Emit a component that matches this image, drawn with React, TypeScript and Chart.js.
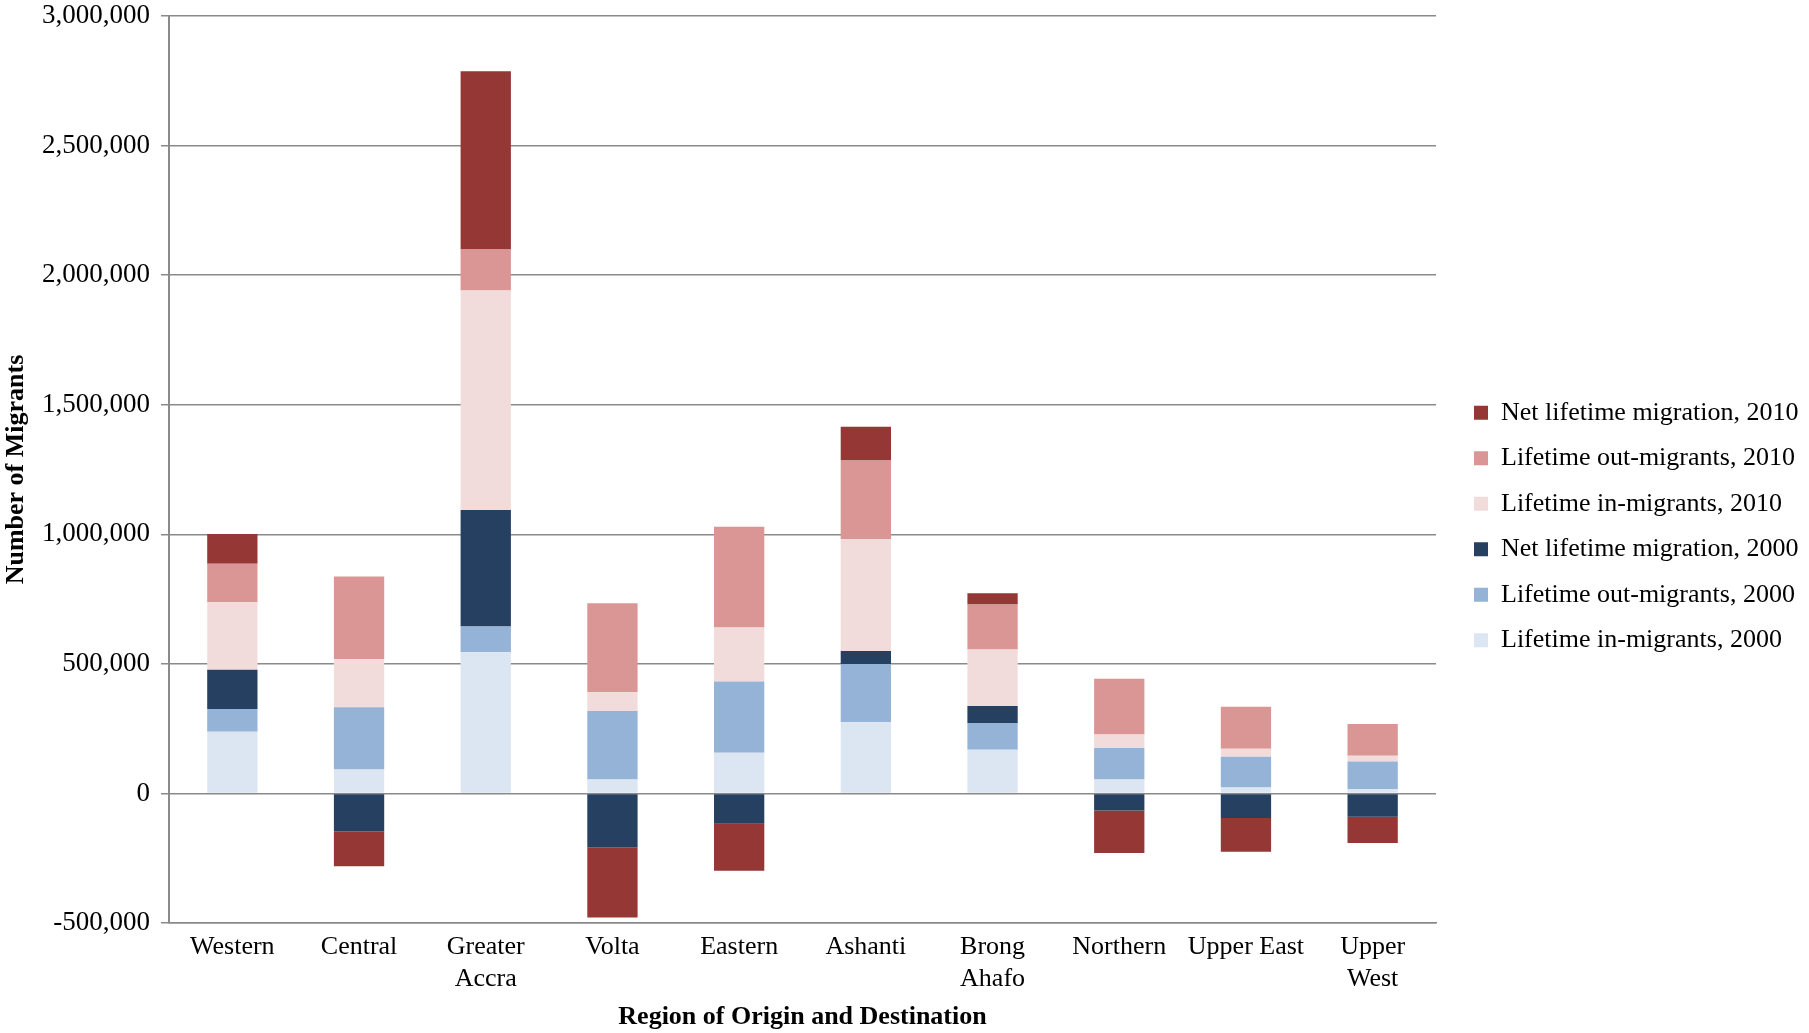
import React, { useEffect, useRef } from 'react';
import { Chart, registerables } from 'chart.js';

Chart.register(...registerables);

const categories: (string | string[])[] = [
  'Western',
  'Central',
  ['Greater', 'Accra'],
  'Volta',
  'Eastern',
  'Ashanti',
  ['Brong', 'Ahafo'],
  'Northern',
  'Upper East',
  ['Upper', 'West'],
];

const inMigrants2000 = [238000, 92000, 545000, 54000, 157000, 275000, 169000, 54000, 23000, 17000];
const outMigrants2000 = [88000, 241000, 99000, 264000, 275000, 224000, 103000, 121000, 119000, 106000];
const netMigration2000 = [151000, -147000, 450000, -208000, -117000, 51000, 65000, -66000, -95000, -90000];
const inMigrants2010 = [262000, 185000, 847000, 72000, 208000, 432000, 218000, 52000, 30000, 22000];
const outMigrants2010 = [147000, 319000, 158000, 344000, 389000, 303000, 174000, 216000, 162000, 123000];
const netMigration2010 = [115000, -134000, 688000, -271000, -181000, 130000, 43000, -164000, -130000, -101000];

const yMin = -500000;
const yMax = 3000000;
const yStep = 500000;

const FONT = "'Liberation Serif', 'Times New Roman', serif";
const GRID = '#8a8a8a';

export default function App() {
  const ref = useRef<HTMLCanvasElement | null>(null);

  useEffect(() => {
    document.body.style.margin = '0';
    document.documentElement.style.overflow = 'hidden';
    document.body.style.overflow = 'hidden';
    if (!ref.current) return;

    const LEGEND_WIDTH = 373;
    const LEGEND_BOX_LEFT = 1474;
    const LEGEND_PAD = 19.5;
    const LEGEND_DOWN = 10;

    const legendPlacer = {
      id: 'legendPlacer',
      beforeLayout(chart: any) {
        const lg = chart.legend;
        if (lg && !lg.__patched) {
          const orig = lg.fit.bind(lg);
          lg.fit = function () {
            orig();
            this.width = LEGEND_WIDTH;
          };
          lg.__patched = true;
        }
      },
      afterLayout(chart: any) {
        const lg = chart.legend;
        if (lg) {
          lg.left = LEGEND_BOX_LEFT - LEGEND_PAD;
          lg.right = lg.left + lg.width;
          lg.top += LEGEND_DOWN;
          lg.bottom += LEGEND_DOWN;
        }
      },
    };

    const chart = new Chart(ref.current, {
      type: 'bar',
      data: {
        labels: categories,
        datasets: [
          { label: 'Lifetime in-migrants, 2000', data: inMigrants2000, backgroundColor: '#DCE6F2' },
          { label: 'Lifetime out-migrants, 2000', data: outMigrants2000, backgroundColor: '#95B3D7' },
          { label: 'Net lifetime migration, 2000', data: netMigration2000, backgroundColor: '#254061' },
          { label: 'Lifetime in-migrants, 2010', data: inMigrants2010, backgroundColor: '#F2DCDB' },
          { label: 'Lifetime out-migrants, 2010', data: outMigrants2010, backgroundColor: '#D99694' },
          { label: 'Net lifetime migration, 2010', data: netMigration2010, backgroundColor: '#953735' },
        ],
      },
      options: {
        responsive: false,
        animation: false,
        devicePixelRatio: 1,
        layout: { padding: { top: 0, right: 0, bottom: 0, left: 0 } },
        datasets: {
          bar: { categoryPercentage: 1, barPercentage: 0.397, borderWidth: 0 },
        },
        plugins: {
          legend: {
            position: 'right',
            reverse: true,
            labels: {
              font: { family: FONT, size: 26 },
              color: '#000',
              boxWidth: 14,
              boxHeight: 14,
              padding: LEGEND_PAD,
            },
          },
          tooltip: { enabled: false },
        },
        scales: {
          x: {
            stacked: true,
            grid: { display: false, drawTicks: false },
            border: { display: true, color: GRID, width: 1.5 },
            ticks: {
              font: { family: FONT, size: 26 },
              color: '#000',
              padding: 9,
              maxRotation: 0,
              autoSkip: false,
            },
            title: {
              display: true,
              text: 'Region of Origin and Destination',
              font: { family: FONT, size: 26, weight: 'bold' },
              color: '#000',
              padding: { top: 8, bottom: 0 },
            },
            afterFit: (scale: any) => {
              scale.height = 110;
            },
          },
          y: {
            stacked: true,
            min: yMin,
            max: yMax,
            grid: { color: GRID, lineWidth: 1.5, tickLength: 8, drawTicks: true },
            border: { display: true, color: GRID, width: 2 },
            ticks: {
              stepSize: yStep,
              font: { family: FONT, size: 27 },
              color: '#000',
              padding: 11,
              callback: (v: any) => Number(v).toLocaleString('en-US'),
            },
            title: {
              display: true,
              text: 'Number of Migrants',
              font: { family: FONT, size: 26, weight: 'bold' },
              color: '#000',
              padding: { top: 1, bottom: 0 },
            },
            afterFit: (scale: any) => {
              scale.width = 169;
              scale.paddingTop = 16;
              scale.paddingBottom = 0;
            },
          },
        },
      },
      plugins: [legendPlacer],
    } as any);

    return () => chart.destroy();
  }, []);

  return (
    <div style={{ width: 1809, height: 1033, background: '#fff' }}>
      <canvas ref={ref} width={1809} height={1033} style={{ display: 'block' }} />
    </div>
  );
}
